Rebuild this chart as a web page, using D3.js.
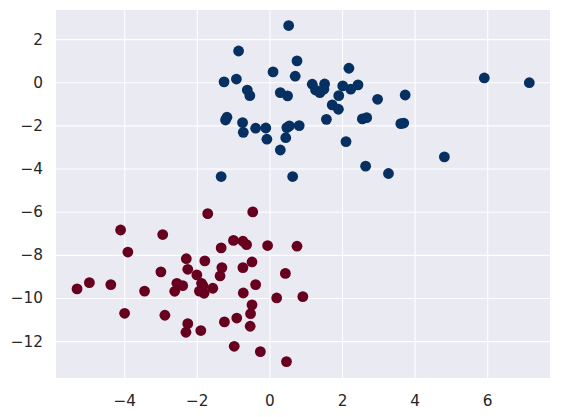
<!DOCTYPE html>
<html>
<head>
<meta charset="utf-8">
<script src="https://cdn.jsdelivr.net/npm/d3@7"></script>
<style>
  body { margin: 0; background: #fff; }
  svg { display: block; }
</style>
</head>
<body>
<div id="chart"></div>
<script>
// cluster 1 (blue)
const blueX = [0.53, -0.85, 0.76, 2.19, 0.10, 0.71, -0.91, -1.25, 5.92, 7.16,
  1.18, 1.52, 2.02, 2.44, 1.27, 1.39, 1.50, 2.24, 1.91, -0.61,
  -0.54, 0.30, 0.50, 3.74, 2.98, 1.73, 1.90, 1.57, 2.56, 2.68,
  -1.17, -1.21, -0.74, -0.72, -0.38, -0.10, -0.07, 0.45, 0.48, 0.55,
  0.82, 0.30, 2.11, 3.62, 3.70, -1.33, 0.64, 2.65, 3.28, 4.82];
const blueY = [2.63, 1.45, 0.99, 0.65, 0.48, 0.28, 0.15, 0.02, 0.20, -0.02,
  -0.09, -0.08, -0.17, -0.12, -0.36, -0.48, -0.32, -0.32, -0.62, -0.36,
  -0.62, -0.48, -0.63, -0.59, -0.79, -1.05, -1.25, -1.72, -1.70, -1.64,
  -1.62, -1.75, -1.87, -2.32, -2.13, -2.12, -2.64, -2.57, -2.10, -2.02,
  -2.01, -3.14, -2.75, -1.92, -1.89, -4.37, -4.37, -3.89, -4.23, -3.46];

// cluster 2 (red)
const redX = [-1.70, -0.46, -4.10, -2.94, -3.90, -0.99, -0.73, -0.63, -0.05, 0.76,
  -1.33, -2.29, -1.78, -2.25, -2.99, -1.31, -0.73, -0.48, -2.00, -1.36,
  0.44, -4.96, -4.37, -5.30, -3.44, -2.55, -2.39, -2.61, -1.87, -1.83,
  -1.93, -1.80, -1.56, -0.38, -0.72, 0.20, 0.92, -0.48, -0.52, -0.53,
  -0.90, -1.24, -3.99, -2.88, -2.25, -2.30, -1.89, -0.97, -0.25, 0.47];
const redY = [-6.09, -6.01, -6.85, -7.06, -7.87, -7.33, -7.37, -7.53, -7.57, -7.60,
  -7.68, -8.18, -8.28, -8.67, -8.79, -8.59, -8.59, -8.33, -8.93, -8.98,
  -8.86, -9.29, -9.38, -9.58, -9.68, -9.32, -9.43, -9.69, -9.32, -9.44,
  -9.68, -9.78, -9.55, -9.38, -9.77, -10.00, -9.94, -10.32, -10.73, -11.31,
  -10.93, -11.11, -10.71, -10.80, -11.19, -11.59, -11.51, -12.24, -12.49, -12.95];

const xTicks = [-4, -2, 0, 2, 4, 6];
const yTicks = [2, 0, -2, -4, -6, -8, -10, -12];

const width = 561;
const height = 417;
const margin = { top: 10, right: 11, bottom: 39, left: 56 };

const svg = d3.select('#chart')
  .append('svg')
  .attr('width', width)
  .attr('height', height);

const x = d3.scaleLinear()
  .domain([-5.88, 7.73])
  .range([margin.left, width - margin.right]);

const y = d3.scaleLinear()
  .domain([-13.71, 3.35])
  .range([height - margin.bottom, margin.top]);

svg.append('rect')
  .attr('x', margin.left)
  .attr('y', margin.top)
  .attr('width', width - margin.left - margin.right)
  .attr('height', height - margin.top - margin.bottom)
  .attr('fill', '#eaeaf2');

const fmt = d3.format('d');

function xAxis(g) {
  g.attr('transform', `translate(0,${height - margin.bottom})`)
    .call(d3.axisBottom(x).tickValues(xTicks).tickFormat(fmt)
      .tickSize(-(height - margin.top - margin.bottom)).tickPadding(17))
    .call(g => g.select('.domain').remove())
    .call(g => g.selectAll('.tick line').attr('stroke', '#fff').attr('stroke-width', 1.1))
    .call(g => g.selectAll('.tick text').attr('fill', '#262626'))
    .attr('font-family', 'DejaVu Sans')
    .attr('font-size', '15.3px');
}

function yAxis(g) {
  g.attr('transform', `translate(${margin.left},0)`)
    .call(d3.axisLeft(y).tickValues(yTicks).tickFormat(fmt)
      .tickSize(-(width - margin.left - margin.right)).tickPadding(13))
    .call(g => g.select('.domain').remove())
    .call(g => g.selectAll('.tick line').attr('stroke', '#fff').attr('stroke-width', 1.1))
    .call(g => g.selectAll('.tick text').attr('fill', '#262626'))
    .attr('font-family', 'DejaVu Sans')
    .attr('font-size', '15.3px');
}

svg.append('g').call(xAxis);
svg.append('g').call(yAxis);

const blue = blueX.map((v, i) => ({ x: v, y: blueY[i] }));
const red = redX.map((v, i) => ({ x: v, y: redY[i] }));

svg.append('g')
  .attr('fill', '#053061')
  .selectAll('circle')
  .data(blue)
  .join('circle')
    .attr('cx', d => x(d.x))
    .attr('cy', d => y(d.y))
    .attr('r', 5.4);

svg.append('g')
  .attr('fill', '#67001f')
  .selectAll('circle')
  .data(red)
  .join('circle')
    .attr('cx', d => x(d.x))
    .attr('cy', d => y(d.y))
    .attr('r', 5.4);
</script>
</body>
</html>
